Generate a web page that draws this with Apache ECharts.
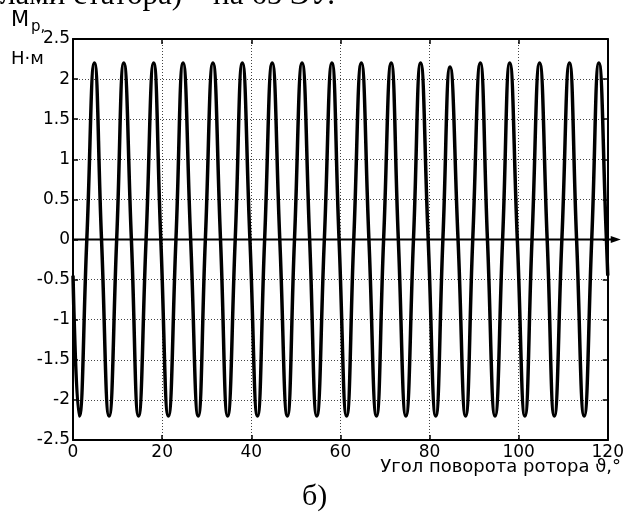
<!DOCTYPE html>
<html>
<head>
<meta charset="utf-8">
<script src="https://cdn.jsdelivr.net/npm/echarts@6/dist/echarts.min.js"></script>
<style>
html,body{margin:0;padding:0;background:#fff;}
#c{width:627px;height:520px;}
</style>
</head>
<body>
<div id="c"></div>
<script>
// Rotor angle, degrees (peaks, zero crossings, troughs)
var angles = [0, 1.4, 3.1, 4.8, 6.4, 8.1, 9.8, 11.4, 13.1, 14.7, 16.4, 18.1, 19.7, 21.4, 23.1, 24.7,
  26.4, 28.1, 29.7, 31.4, 33.1, 34.7, 36.4, 38.0, 39.7, 41.4, 43.0, 44.7, 46.4, 48.1, 49.7, 51.4,
  53.1, 54.7, 56.4, 58.1, 59.7, 61.4, 63.0, 64.7, 66.4, 68.1, 69.7, 71.4, 73.0, 74.7, 76.4, 78.0,
  79.7, 81.4, 83.0, 84.6, 86.4, 88.1, 89.7, 91.4, 93.0, 94.7, 96.4, 98.0, 99.7, 101.4, 103.0, 104.7,
  106.4, 108.0, 109.7, 111.4, 113.0, 114.7, 116.4, 118.0, 119.7, 120];
// Torque Mp, N·m
var torque = [-0.45, -2.2, 0, 2.2, 0, -2.2, 0, 2.2, 0, -2.2, 0, 2.2, 0, -2.2, 0, 2.2,
  0, -2.2, 0, 2.2, 0, -2.2, 0, 2.2, 0, -2.2, 0, 2.2, 0, -2.2, 0, 2.2,
  0, -2.2, 0, 2.2, 0, -2.2, 0, 2.2, 0, -2.2, 0, 2.2, 0, -2.2, 0, 2.2,
  0, -2.2, 0, 2.15, 0, -2.2, 0, 2.2, 0, -2.2, 0, 2.2, 0, -2.2, 0, 2.2,
  0, -2.2, 0, 2.2, 0, -2.2, 0, 2.2, 0, -0.45];
var xTicks = {min: 0, max: 120, step: 20};
var yTicks = {min: -2.5, max: 2.5, step: 0.5};

var pts = angles.map(function (a, i) { return [a, torque[i]]; });

var SANS = 'DejaVu Sans';
var SERIF = 'Liberation Serif';
var chart = echarts.init(document.getElementById('c'), null, {renderer: 'canvas'});

function xAx(pos, show) {
  return {
    type: 'value', position: pos, min: xTicks.min, max: xTicks.max, interval: xTicks.step,
    axisLine: {show: true, onZero: false, lineStyle: {color: '#000', width: 2}},
    axisTick: {show: true, inside: true, length: 5, lineStyle: {color: '#000', width: 1.5}},
    axisLabel: {show: show, color: '#000', fontSize: 17, fontFamily: SANS, margin: 4},
    splitLine: {show: show, lineStyle: {color: '#444', width: 1, type: [1, 2]}}
  };
}
function yAx(pos, show) {
  return {
    type: 'value', position: pos, min: yTicks.min, max: yTicks.max, interval: yTicks.step,
    axisLine: {show: true, onZero: false, lineStyle: {color: '#000', width: 2}},
    axisTick: {show: true, inside: true, length: 5, lineStyle: {color: '#000', width: 1.5}},
    axisLabel: {show: show, color: '#000', fontSize: 17, fontFamily: SANS, margin: 3},
    splitLine: {show: show, lineStyle: {color: '#444', width: 1, type: [1, 2]}}
  };
}

chart.setOption({
  animation: false,
  backgroundColor: '#fff',
  grid: {left: 73, right: 17, top: 39, bottom: 80, containLabel: false},
  xAxis: [xAx('bottom', true), xAx('top', false)],
  yAxis: [yAx('left', true), yAx('right', false)],
  series: [{
    type: 'line', data: pts, xAxisIndex: 0, yAxisIndex: 0,
    smooth: 0.5, showSymbol: false, symbol: 'none',
    lineStyle: {color: '#000', width: 3.5}, z: 5
  }]
});

var p0 = chart.convertToPixel({xAxisIndex: 0, yAxisIndex: 0}, [xTicks.min, 0]);
var p1 = chart.convertToPixel({xAxisIndex: 0, yAxisIndex: 0}, [xTicks.max, 0]);
var tip = p1[0] + 13;

function txt(s, size, fam, pos) {
  var o = {type: 'text', z: 10, style: {text: s, fontSize: size, fontFamily: fam, fill: '#000'}};
  for (var k in pos) o[k] = pos[k];
  return o;
}

chart.setOption({
  graphic: [
    {type: 'line', shape: {x1: p0[0], y1: p0[1], x2: tip - 6, y2: p1[1]},
     style: {stroke: '#000', lineWidth: 2}, z: 10},
    {type: 'polygon', shape: {points: [[tip, p1[1]], [tip - 10, p1[1] - 3.5], [tip - 10, p1[1] + 3.5]]},
     style: {fill: '#000'}, z: 10},
    txt('M', 21, SANS, {left: 11, top: 10}),
    txt('p,', 15, SANS, {left: 31, top: 20}),
    txt('Н·м', 18, SANS, {left: 11, top: 50}),
    txt('Угол поворота ротора ϑ,°', 18, SANS, {right: 6, top: 458}),
    txt('б)', 30, SERIF, {left: 302, top: 482}),
    txt('лами статора) – на 65 ЭУ.', 31, SERIF, {left: 0, top: -20})
  ]
});
</script>
</body>
</html>
